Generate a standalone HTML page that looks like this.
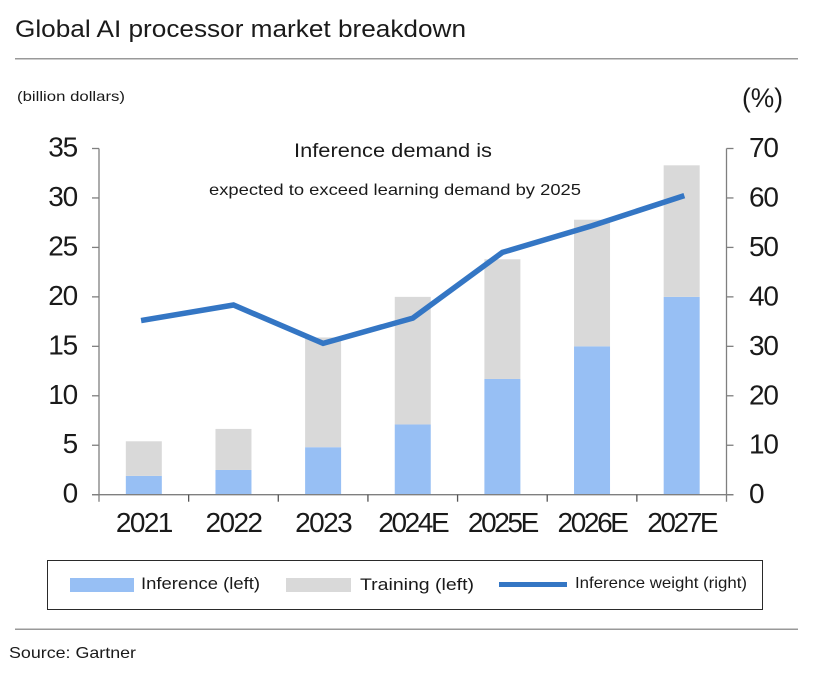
<!DOCTYPE html>
<html lang="en">
<head>
<meta charset="utf-8">
<title>Global AI processor market breakdown</title>
<style>
html,body{margin:0;padding:0;background:#fff;width:816px;height:688px;overflow:hidden}
svg{display:block}
text{font-family:"Liberation Sans",sans-serif;fill:#1a1a1a}
</style>
</head>
<body>
<svg id="chart" width="816" height="688" viewBox="0 0 816 688" xmlns="http://www.w3.org/2000/svg">
  <rect x="0" y="0" width="816" height="688" fill="#ffffff"/>
  <text x="15" y="37" font-size="24" textLength="451" lengthAdjust="spacingAndGlyphs">Global AI processor market breakdown</text>
  <rect x="15" y="58" width="783" height="1.5" fill="#999999"/>
  <text x="17" y="101" font-size="14" fill="#333333" textLength="108" lengthAdjust="spacingAndGlyphs">(billion dollars)</text>
  <text x="742" y="107" font-size="27" textLength="41" lengthAdjust="spacingAndGlyphs">(%)</text>
  <g id="bars"></g>
  <g id="axes"></g>
  <polyline id="weight-line" fill="none" stroke="#3476c4" stroke-width="5.5" stroke-linejoin="miter" stroke-linecap="square"/>
  <text x="294" y="157" font-size="19" textLength="198" lengthAdjust="spacingAndGlyphs">Inference demand is</text>
  <text x="209" y="195" font-size="16" textLength="372" lengthAdjust="spacingAndGlyphs">expected to exceed learning demand by 2025</text>
  <g>
    <rect x="47.5" y="560.5" width="715" height="49" fill="none" stroke="#2a2a2a" stroke-width="1"/>
    <rect x="70" y="578" width="64" height="14" fill="#97bff4"/>
    <text x="141" y="589" font-size="17" textLength="119" lengthAdjust="spacingAndGlyphs">Inference (left)</text>
    <rect x="286" y="578" width="65" height="14" fill="#d9d9d9"/>
    <text x="360" y="590" font-size="17" textLength="114" lengthAdjust="spacingAndGlyphs">Training (left)</text>
    <rect x="499" y="582" width="68" height="5" fill="#3476c4"/>
    <text x="575" y="588" font-size="16" textLength="172" lengthAdjust="spacingAndGlyphs">Inference weight (right)</text>
  </g>
  <rect x="15" y="628.5" width="783" height="1.5" fill="#999999"/>
  <text x="9" y="658" font-size="16" fill="#444444" textLength="127" lengthAdjust="spacingAndGlyphs">Source: Gartner</text>
</svg>
<script>
const categories = ['2021', '2022', '2023', '2024E', '2025E', '2026E', '2027E'];
const inferenceValues = [1.9, 2.5, 4.8, 7.1, 11.7, 15.0, 20.0];
const trainingValues = [3.5, 4.15, 11.1, 12.9, 12.1, 12.8, 13.3];
const weightValues = [35.3, 38.35, 30.6, 35.7, 49.0, 54.4, 60.3];
const leftTicks = [0, 5, 10, 15, 20, 25, 30, 35];
const rightTicks = [0, 10, 20, 30, 40, 50, 60, 70];

const NS = 'http://www.w3.org/2000/svg';
const plotLeft = 99, plotRight = 726.5, plotBottom = 494.7, plotTop = 148.5;
const leftMax = 35, rightMax = 70, barWidth = 36;
const step = (plotRight - plotLeft) / categories.length;
const xCenter = i => plotLeft + step * (i + 0.5);
const yLeft = v => plotBottom - (v / leftMax) * (plotBottom - plotTop);
const yRight = v => plotBottom - (v / rightMax) * (plotBottom - plotTop);

function make(tag, attrs, parent, text) {
  const el = document.createElementNS(NS, tag);
  for (const k in attrs) el.setAttribute(k, attrs[k]);
  if (text !== undefined) el.textContent = text;
  parent.appendChild(el);
  return el;
}

const barsG = document.getElementById('bars');
const axesG = document.getElementById('axes');

categories.forEach((cat, i) => {
  const x = xCenter(i) - barWidth / 2;
  const infTop = yLeft(inferenceValues[i]);
  const totalTop = yLeft(inferenceValues[i] + trainingValues[i]);
  const inf = make('rect', {x: x, y: infTop, width: barWidth, height: plotBottom - infTop, fill: '#97bff4'}, barsG);
  
  
  const tr = make('rect', {x: x, y: totalTop, width: barWidth, height: infTop - totalTop, fill: '#d9d9d9'}, barsG);
  
  
});

const axisColor = '#7f7f7f';
const leftAxis = make('line', {x1: plotLeft, x2: plotLeft, y1: plotTop, y2: plotBottom + 7, stroke: axisColor, 'stroke-width': 1.3}, axesG);


const rightAxis = make('line', {x1: plotRight, x2: plotRight, y1: plotTop, y2: plotBottom + 7, stroke: axisColor, 'stroke-width': 1.3}, axesG);


const xAxis = make('line', {x1: plotLeft - 7, x2: plotRight + 7, y1: plotBottom, y2: plotBottom, stroke: axisColor, 'stroke-width': 1.3}, axesG);



leftTicks.forEach(t => {
  const y = yLeft(t);
  const tick = make('line', {x1: plotLeft - 7, x2: plotLeft, y1: y, y2: y, stroke: axisColor, 'stroke-width': 1.3}, axesG);
  
  
  const label = make('text', {x: 77, y: y + 8, 'font-size': 28, 'text-anchor': 'end', 'letter-spacing': '-1.2'}, axesG, String(t));
  
  
});

rightTicks.forEach(t => {
  const y = yRight(t);
  const tick = make('line', {x1: plotRight, x2: plotRight + 7, y1: y, y2: y, stroke: axisColor, 'stroke-width': 1.3}, axesG);
  
  
  const label = make('text', {x: 749, y: y + 8.5, 'font-size': 28, 'letter-spacing': '-1.2'}, axesG, String(t));
  
  
});

categories.forEach((cat, i) => {
  const bx = plotLeft + step * i;
  if (i > 0) {
    const tick = make('line', {x1: bx, x2: bx, y1: plotBottom, y2: plotBottom + 7, stroke: '#555555', 'stroke-width': 1.3}, axesG);
    
    
  }
  const tight = cat.endsWith('E') ? '-2.4' : '-1.6';
  const label = make('text', {x: xCenter(i), y: 532, 'font-size': 28, 'text-anchor': 'middle', 'letter-spacing': tight}, axesG, cat);
  
  
});

document.getElementById('weight-line').setAttribute('points',
  weightValues.map((v, i) => xCenter(i).toFixed(1) + ',' + yRight(v).toFixed(1)).join(' '));
</script>
</body>
</html>
